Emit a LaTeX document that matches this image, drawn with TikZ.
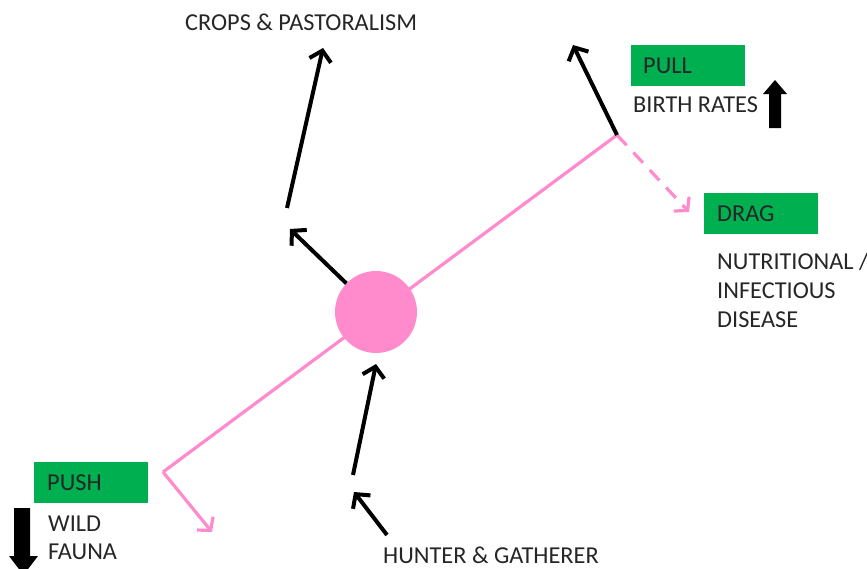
\documentclass[tikz,border=0pt]{standalone}
\usepackage{fontspec}
\setmainfont{Carlito}
\usetikzlibrary{arrows.meta}
\definecolor{pk}{RGB}{255,138,204}
\definecolor{gr}{RGB}{0,176,80}
\begin{document}
\begin{tikzpicture}[x=1pt,y=-1pt,
  pinkline/.style={draw=pk,line width=3.2pt},
  blk/.style={draw=black,line width=4pt,-{Straight Barb[length=10pt,width=22pt,line width=4pt]}},
  pkarrow/.style={pinkline,-{Straight Barb[length=9pt,width=21pt,line width=3.2pt]}},
  gbox/.style={fill=gr,minimum width=114pt,minimum height=41pt,inner sep=0pt},
  lbl/.style={font=\fontsize{24.3}{29}\selectfont,text=black!85,inner sep=0pt},
  blockfill/.style={fill=black}]
\useasboundingbox (0,0) rectangle (867,568);
% pink structure
\coordinate (pl) at (163,472);
\coordinate (pr) at (617,135);
\coordinate (pa) at (212,532);
\coordinate (pd) at (689,212);
\draw[pinkline] (pl) -- (pr);
\node[circle,fill=pk,minimum size=82pt,inner sep=0pt] (c) at (376,312) {};
\draw[pkarrow] (pl) -- (pa);
\draw[pkarrow,dash pattern=on 14pt off 10pt] (pr) -- (pd);
% black arrows
\coordinate (t1) at (573,45);
\draw[blk] (pr) -- (t1);
\coordinate (t2) at (290,229);
\draw[blk] (c.136) -- (t2);
\coordinate (s3) at (287,208);
\coordinate (t3) at (323,48);
\draw[blk] (s3) -- (t3);
\coordinate (s4) at (353,475);
\coordinate (t4) at (376,364);
\draw[blk] (s4) -- (t4);
\coordinate (s5) at (387,535);
\coordinate (t5) at (354,492);
\draw[blk] (s5) -- (t5);
% boxes
\node[gbox] (pull) at (688,65.5) {};
\node[lbl,anchor=west] (pullt) at (643,66) {PULL};
\node[gbox] (drag) at (761,213.5) {};
\node[lbl,anchor=west] (dragt) at (717,214) {DRAG};
\node[gbox] (push) at (91,482) {};
\node[lbl,anchor=west] (pusht) at (47,483) {PUSH};
% labels
\node[lbl,anchor=base west] (birth) at (633,112) {BIRTH RATES};
\node[lbl,anchor=base west] (nut1) at (717,269) {NUTRITIONAL /};
\node[lbl,anchor=base west] (nut2) at (717,298) {INFECTIOUS};
\node[lbl,anchor=base west] (nut3) at (717,327) {DISEASE};
\node[lbl,anchor=base west] (wild1) at (48,531) {WILD};
\node[lbl,anchor=base west] (wild2) at (48,559) {FAUNA};
\node[lbl,anchor=base west,text depth=0pt] (hunt) at (383,563) {HUNTER \& GATHERER};
\node[lbl,anchor=base west] (crops) at (185,30) {CROPS \& PASTORALISM};
% block arrows
\fill[blockfill] (769,128) -- (769,94) -- (763,94) -- (775,80) -- (787,94) -- (781,94) -- (781,128) -- cycle;
\fill[blockfill] (14,508) -- (14,556) -- (9,556) -- (23.5,575) -- (38,556) -- (30,556) -- (30,508) -- cycle;
\end{tikzpicture}
\end{document}
